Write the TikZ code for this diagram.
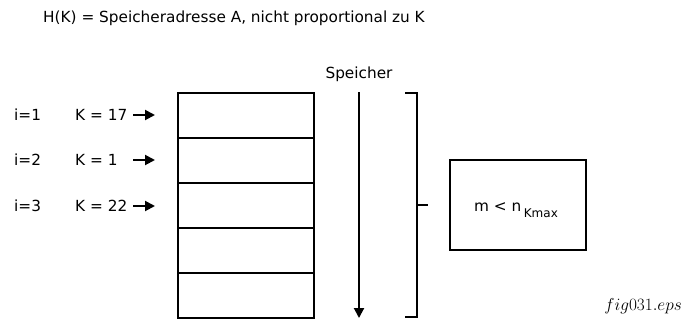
\documentclass[tikz,border=0pt]{standalone}
\usepackage{fontspec}
\setsansfont{DejaVu Sans}
\usetikzlibrary{arrows.meta}
\begin{document}
\begin{tikzpicture}[x=1pt,y=-1pt,
  lbl/.style={font=\sffamily\fontsize{15.3}{18}\selectfont, inner sep=0pt},
  cell/.style={draw, line width=2pt, minimum width=136pt, minimum height=45pt, inner sep=0pt},
  heavy/.style={line width=2pt},
  tip/.style={-{Triangle[length=10pt,width=10pt]}, line width=2pt}]
\useasboundingbox (0,0) rectangle (684,322);
% heading
\node[lbl, anchor=west] (title) at (43,18) {H(K) = Speicheradresse A, nicht proportional zu K};
% memory cells
\foreach \r/\y in {1/115,2/160,3/205,4/250,5/295}
  \node[cell] (c\r) at (246,\y) {};
% keys pointing at the first three cells
\foreach \r/\i/\k/\y in {1/1/17/115,2/2/1/160,3/3/22/206}{
  \node[lbl, anchor=west] (i\r) at (14,\y) {i=\i};
  \node[lbl, anchor=west] (k\r) at (75,\y) {K = \k};
  \coordinate (s\r) at (133,\y);
  \coordinate (e\r) at (155,\y);
  \draw[tip] (s\r) -- (e\r);
}
% address direction
\node[lbl] (sp) at (359,74) {Speicher};
\coordinate (atop) at (359,92);
\coordinate (abot) at (359,318);
\draw[tip] (atop) -- (abot);
% bracket over the whole memory
\coordinate (b1) at (405,93);
\coordinate (b2) at (417,93);
\coordinate (b3) at (417,317);
\coordinate (b4) at (405,317);
\coordinate (bm) at (417,205);
\coordinate (bt) at (428,205);
\draw[heavy] (b1) -- (b2) -- (b3) -- (b4);
\draw[heavy] (bm) -- (bt);
% size box
\node[draw, line width=2pt, minimum width=136pt, minimum height=90pt, inner sep=0pt] (m) at (518,205) {};
\node[lbl] (mt) at (516,210) {m < n\,\raisebox{-6pt}{\fontsize{12}{14}\selectfont Kmax}};
% file tag
\node[font=\fontsize{17}{20}\selectfont, inner sep=0pt, anchor=base east] (tag) at (682,310) {$fig031.eps$};
\end{tikzpicture}
\end{document}
